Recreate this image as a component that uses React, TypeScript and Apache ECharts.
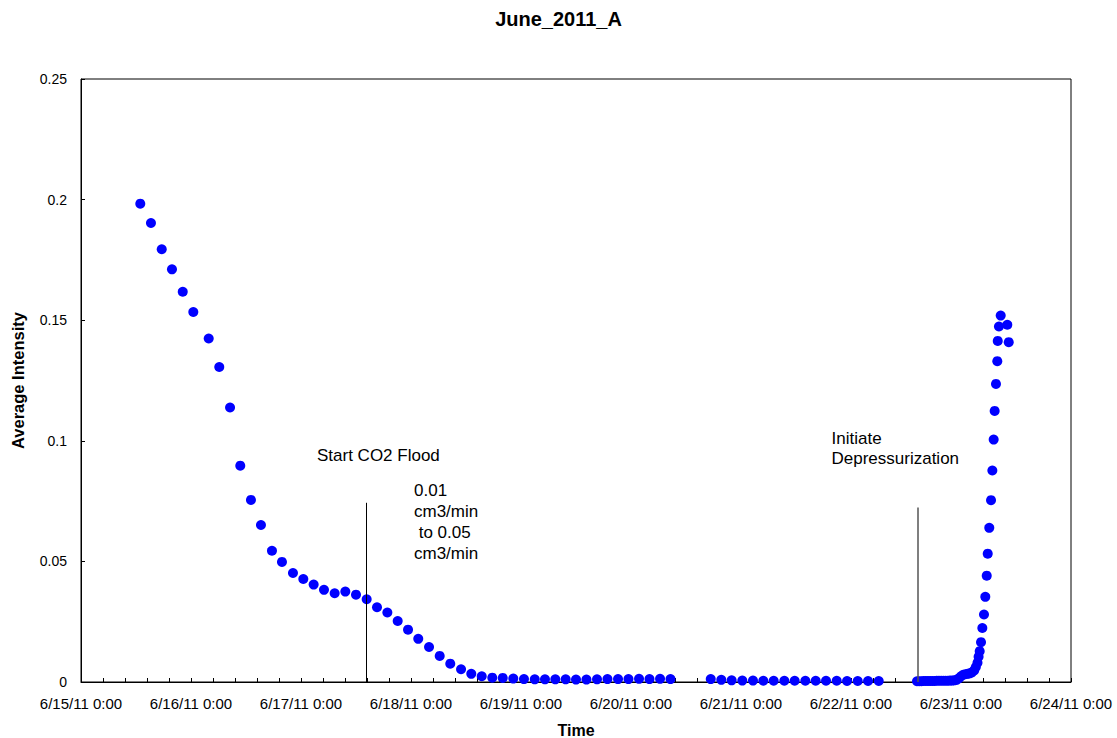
import React, { useEffect, useRef } from "react";
import * as echarts from "echarts";

// X axis: days since 6/15/11 0:00
const xTickLabels = [
  "6/15/11 0:00", "6/16/11 0:00", "6/17/11 0:00", "6/18/11 0:00", "6/19/11 0:00",
  "6/20/11 0:00", "6/21/11 0:00", "6/22/11 0:00", "6/23/11 0:00", "6/24/11 0:00",
];

// Segment 1: initial decline
const seg1Days = [
  0.539, 0.636, 0.734, 0.827, 0.925, 1.021, 1.161, 1.257, 1.355, 1.448, 1.545, 1.636,
  1.736, 1.827, 1.927, 2.021, 2.115, 2.209, 2.306, 2.403, 2.5, 2.597, 2.691, 2.785,
  2.879, 2.973, 3.066, 3.164, 3.261, 3.357, 3.455, 3.548, 3.643, 3.739, 3.834, 3.93,
  4.027, 4.125, 4.218, 4.312, 4.406, 4.5, 4.595, 4.691, 4.786, 4.882, 4.977, 5.073,
  5.168, 5.264, 5.359,
];
const seg1Values = [
  0.1983, 0.1903, 0.1794, 0.1711, 0.1618, 0.1534, 0.1424, 0.1306, 0.1138, 0.0897, 0.0755, 0.0651,
  0.0544, 0.0498, 0.0452, 0.0427, 0.0404, 0.0382, 0.0368, 0.0375, 0.0362, 0.0343, 0.031, 0.0288,
  0.0253, 0.0217, 0.0179, 0.0145, 0.0108, 0.0076, 0.0053, 0.0034, 0.0024, 0.0018, 0.0017, 0.0014,
  0.0012, 0.0011, 0.0011, 0.0011, 0.0011, 0.001, 0.001, 0.0011, 0.0012, 0.0012, 0.0012, 0.0013,
  0.0012, 0.0013, 0.0012,
];

// Segment 2: flat period
const seg2Days = [
  5.725, 5.821, 5.915, 6.012, 6.109, 6.203, 6.297, 6.394, 6.488, 6.585, 6.679, 6.773,
  6.87, 6.964, 7.061, 7.155, 7.252,
];
const seg2Values = [
  0.0012, 0.0009, 0.0007, 0.0006, 0.0006, 0.0005, 0.0005, 0.0005, 0.0005, 0.0005, 0.0005, 0.0005,
  0.0005, 0.0004, 0.0004, 0.0004, 0.0004,
];

// Segment 3: depressurization rise
const seg3Days = [
  7.6, 7.62, 7.64, 7.66, 7.68, 7.7, 7.72, 7.74, 7.76, 7.78, 7.8, 7.82, 7.84, 7.86, 7.88,
  7.9, 7.92, 7.94, 7.96, 7.98, 8.0, 8.02, 8.04, 8.06, 8.08, 8.1, 8.12, 8.135, 8.15, 8.16,
  8.17, 8.182, 8.194, 8.209, 8.221, 8.234, 8.243, 8.257, 8.273, 8.285, 8.297, 8.306, 8.318,
  8.33, 8.334, 8.345, 8.361, 8.421, 8.434,
];
const seg3Values = [
  0.0003, 0.0003, 0.0003, 0.0004, 0.0004, 0.0004, 0.0004, 0.0004, 0.0004, 0.0005, 0.0005, 0.0005,
  0.0005, 0.0005, 0.0005, 0.0006, 0.0006, 0.0007, 0.0009, 0.0015, 0.0024, 0.003, 0.0032, 0.0034,
  0.0036, 0.004, 0.0048, 0.0062, 0.008, 0.0105, 0.0128, 0.0165, 0.0224, 0.028, 0.0353, 0.0441,
  0.0532, 0.0639, 0.0754, 0.0877, 0.1005, 0.1124, 0.1236, 0.133, 0.1414, 0.1474, 0.1519, 0.1481,
  0.1409,
];

// Annotation markers (x in days, top in intensity)
const floodLineDay = 2.591;
const floodLineTop = 0.0743;
const depressLineDay = 7.603;
const depressLineTop = 0.0723;

const FONT = "'Liberation Sans', Arial, Helvetica, sans-serif";

export default function App() {
  const ref = useRef<HTMLDivElement>(null);

  useEffect(() => {
    if (!ref.current) return;
    const chart = echarts.init(ref.current, undefined, { renderer: "svg" });

    const allDays = [...seg1Days, ...seg2Days, ...seg3Days];
    const allValues = [...seg1Values, ...seg2Values, ...seg3Values];
    const data = allDays.map((d, i) => [d, allValues[i]]);

    const annoText = (text: string, x: number, y: number) => ({
      type: "text",
      x,
      y,
      silent: true,
      style: {
        text,
        fill: "#000",
        fontSize: 17,
        fontFamily: FONT,
        align: "left",
        verticalAlign: "middle",
      },
    });

    chart.setOption({
      animation: false,
      backgroundColor: "#fff",
      title: {
        text: "June_2011_A",
        left: "center",
        top: 4,
        textStyle: { fontSize: 20, fontWeight: "bold", color: "#000", fontFamily: FONT },
      },
      grid: {
        left: 81,
        right: 46,
        top: 79,
        bottom: 56,
        show: true,
        borderColor: "#000",
        borderWidth: 1,
        backgroundColor: "transparent",
        outerBoundsMode: "none",
      },
      xAxis: {
        type: "value",
        min: 0,
        max: 9,
        interval: 1,
        name: "Time",
        nameLocation: "middle",
        nameGap: 40,
        nameTextStyle: { fontSize: 16, fontWeight: "bold", color: "#000", fontFamily: FONT },
        axisLine: { show: true, onZero: false, lineStyle: { color: "#000", width: 1 } },
        axisTick: { show: true, inside: true, length: 4, lineStyle: { color: "#000" } },
        minorTick: { show: true, splitNumber: 5, length: 4, lineStyle: { color: "#000" } },
        splitLine: { show: false },
        axisLabel: {
          color: "#000",
          fontSize: 15,
          fontFamily: FONT,
          margin: 14,
          showMinLabel: true,
          showMaxLabel: true,
          formatter: (v: number) => xTickLabels[Math.round(v)] ?? "",
        },
      },
      yAxis: {
        type: "value",
        min: 0,
        max: 0.25,
        interval: 0.05,
        name: "Average Intensity",
        nameLocation: "middle",
        nameGap: 55,
        nameTextStyle: { fontSize: 16.5, fontWeight: "bold", color: "#000", fontFamily: FONT },
        axisLine: { show: true, lineStyle: { color: "#000", width: 1 } },
        axisTick: { show: true, inside: true, length: 4, lineStyle: { color: "#000" } },
        splitLine: { show: false },
        axisLabel: { color: "#000", fontSize: 14, fontFamily: FONT, margin: 14 },
      },
      series: [
        {
          type: "scatter",
          data,
          symbol: "circle",
          symbolSize: 10,
          itemStyle: { color: "#0000FF", opacity: 1 },
          markLine: {
            silent: true,
            symbol: ["none", "none"],
            label: { show: false },
            animation: false,
            data: [
              [
                { coord: [floodLineDay, 0], lineStyle: { color: "#000", width: 1, type: "solid" } },
                { coord: [floodLineDay, floodLineTop] },
              ],
              [
                { coord: [depressLineDay, 0], lineStyle: { color: "#555", width: 1.5, type: "solid" } },
                { coord: [depressLineDay, depressLineTop] },
              ],
            ],
          },
        },
      ],
      graphic: [
        annoText("Start CO2 Flood", 317, 455.5),
        annoText("0.01", 414, 490.5),
        annoText("cm3/min", 414, 511.5),
        annoText(" to 0.05", 414, 532.5),
        annoText("cm3/min", 414, 553.5),
        annoText("Initiate", 831.5, 438),
        annoText("Depressurization", 831.5, 458),
      ],
    });

    return () => chart.dispose();
  }, []);

  return (
    <div
      ref={ref}
      style={{ position: "absolute", left: 0, top: 0, width: 1117, height: 738, background: "#fff" }}
    />
  );
}
